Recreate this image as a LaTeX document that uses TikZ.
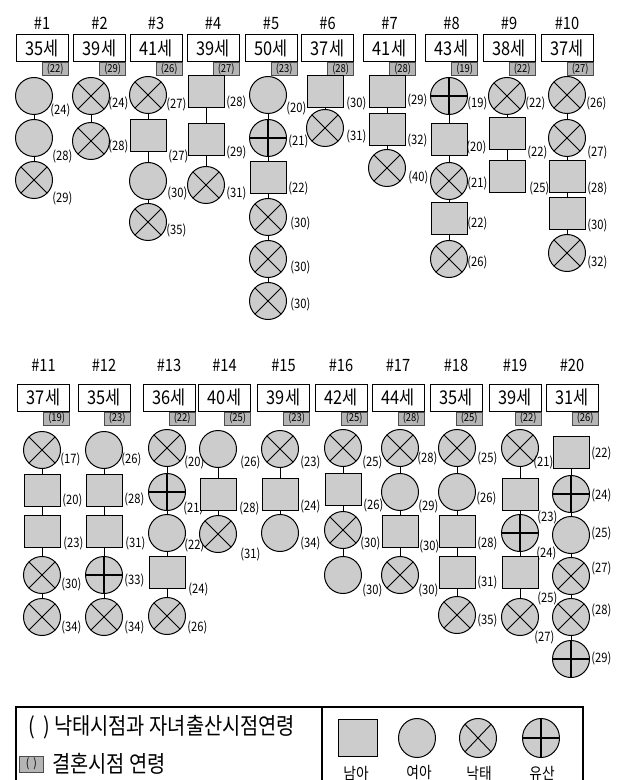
\documentclass[tikz,border=0pt]{standalone}
\usepackage{fontspec}
\setmainfont{Noto Sans CJK KR}[FakeStretch=0.86]
\usetikzlibrary{positioning,shapes.geometric}
\colorlet{kidgray}{gray!40}
\colorlet{weddark}{gray!58}

\tikzset{
  kid/.style={draw, fill=kidgray, line width=0.5pt, inner sep=0pt},
  xcross/.style={path picture={\draw[line width=0.45pt]
      (path picture bounding box.north west) -- (path picture bounding box.south east)
      (path picture bounding box.north east) -- (path picture bounding box.south west);}},
  pluscross/.style={path picture={\draw[line width=0.55pt]
      (path picture bounding box.north) -- (path picture bounding box.south)
      (path picture bounding box.west) -- (path picture bounding box.east);}},
  boy/.style={kid, rectangle, minimum width=18pt, minimum height=16pt},
  girl/.style={kid, circle, minimum size=18.5pt},
  abort/.style={girl, xcross},
  miscarry/.style={girl, pluscross},
  keyboy/.style={kid, rectangle, minimum width=19.5pt, minimum height=18.5pt},
  keygirl/.style={kid, ellipse, minimum width=18.5pt, minimum height=19.5pt},
  link/.style={line width=0.45pt},
  agelbl/.style={anchor=west, inner sep=0pt, font=\fontsize{6.5}{7}\selectfont},
  famno/.style={inner sep=0pt, font=\fontsize{8.5}{9}\selectfont},
  agebox/.style={draw, fill=white, line width=0.5pt, minimum width=26pt,
      minimum height=13.5pt, inner sep=0pt, font=\fontsize{9.5}{10}\selectfont},
  wedtag/.style={draw=black!70, fill=weddark, line width=0.3pt, minimum width=13pt,
      minimum height=6.5pt, inner sep=0pt, anchor=north east, font=\fontsize{5.5}{5.5}\selectfont},
  legtext/.style={inner sep=0pt, font=\fontsize{11.5}{12}\selectfont},
  keylbl/.style={inner sep=0pt, font=\fontsize{8}{9}\selectfont},
}

% one pregnancy: style, name, position, label position, age
\newcommand{\kid}[5]{%
  \node[#1] (#2) at (#3) {};
  \node[agelbl] (#2l) at (#4) {(#5)};}

\begin{document}
\begin{tikzpicture}[x=0.5pt, y=-0.5pt]
  \useasboundingbox (0,0) rectangle (621,780);

  % family headers, upper row
  \foreach \n/\x/\yrs/\w in {1/42/35/22, 2/99.5/39/29, 3/156/41/26, 4/213/39/27,
      5/271/50/23, 6/327.5/37/28, 7/389.5/41/28, 8/451.5/43/19, 9/509/38/22, 10/567/37/27} {
    \node[famno] (no\n) at (\x,23) {\#\n};
    \node[agebox] (age\n) at (\x,48.5) {\yrs{}세};
    \node[wedtag] (wed\n) at (age\n.south east) {(\w)};
  }
  % family headers, lower row
  \foreach \n/\x/\yrs/\w in {11/43.5/37/19, 12/104/35/23, 13/169/36/22, 14/224.5/40/25,
      15/283.5/39/23, 16/341/42/25, 17/398/44/28, 18/456/35/25, 19/515/39/22, 20/572/31/26} {
    \node[famno] (no\n) at (\x,365) {\#\n};
    \node[agebox] (age\n) at (\x,397.5) {\yrs{}세};
    \node[wedtag] (wed\n) at (age\n.south east) {(\w)};
  }

  % #1
  \kid{girl}{f1a}{34,96}{50,110}{24}
  \kid{girl}{f1b}{34,138}{52,156}{28}
  \kid{abort}{f1c}{34,180}{52,198}{29}
  \draw[link] (f1a) -- (f1b) -- (f1c);
  % #2
  \kid{abort}{f2a}{91,96}{108,103}{24}
  \kid{abort}{f2b}{91,141}{108,146}{28}
  \draw[link] (f2a) -- (f2b);
  % #3
  \kid{abort}{f3a}{148,95}{166,104}{27}
  \kid{boy}{f3b}{148,136}{168,156}{27}
  \kid{girl}{f3c}{148,181}{167,193}{30}
  \kid{abort}{f3d}{148,222}{166,230}{35}
  \draw[link] (f3a) -- (f3b) -- (f3c) -- (f3d);
  % #4
  \kid{boy}{f4a}{206,92}{226,102}{28}
  \kid{boy}{f4b}{206,140}{226,152}{29}
  \kid{abort}{f4c}{206,185}{226,193}{31}
  \draw[link] (f4a) -- (f4b) -- (f4c);
  % #5
  \kid{girl}{f5a}{268,95}{286,108}{20}
  \kid{miscarry}{f5b}{268,138}{288,141}{21}
  \kid{boy}{f5c}{268,178}{288,188}{22}
  \kid{abort}{f5d}{268,217}{290,223}{30}
  \kid{abort}{f5e}{268,259}{290,267}{30}
  \kid{abort}{f5f}{268,301}{290,304}{30}
  \draw[link] (f5a) -- (f5b) -- (f5c) -- (f5d) -- (f5e) -- (f5f);
  % #6
  \kid{boy}{f6a}{325,92}{346,103}{30}
  \kid{abort}{f6b}{325,128}{346,136}{31}
  \draw[link] (f6a) -- (f6b);
  % #7
  \kid{boy}{f7a}{387,92}{407,100}{29}
  \kid{boy}{f7b}{387,130}{407,140}{32}
  \kid{abort}{f7c}{387,168}{408,177}{40}
  \draw[link] (f7a) -- (f7b) -- (f7c);
  % #8
  \kid{miscarry}{f8a}{449,96}{467,103}{19}
  \kid{boy}{f8b}{449,140}{466,147}{20}
  \kid{abort}{f8c}{449,181}{467,183}{21}
  \kid{boy}{f8d}{449,219}{467,223}{22}
  \kid{abort}{f8e}{449,259}{467,262}{26}
  \draw[link] (f8a) -- (f8b) -- (f8c) -- (f8d) -- (f8e);
  % #9
  \kid{abort}{f9a}{507,96}{525,103}{22}
  \kid{boy}{f9b}{507,134}{527,152}{22}
  \kid{boy}{f9c}{507,177}{529,188}{25}
  \draw[link] (f9a) -- (f9b) -- (f9c);
  % #10
  \kid{abort}{f10a}{567,95}{586,103}{26}
  \kid{abort}{f10b}{567,138}{587,152}{27}
  \kid{boy}{f10c}{567,177}{587,188}{28}
  \kid{boy}{f10d}{567,214}{587,225}{30}
  \kid{abort}{f10e}{567,253}{587,262}{32}
  \draw[link] (f10a) -- (f10b) -- (f10c) -- (f10d) -- (f10e);

  % #11
  \kid{abort}{f11a}{42,450}{60,459}{17}
  \kid{boy}{f11b}{42,490}{62,500}{20}
  \kid{boy}{f11c}{42,531}{63,543}{23}
  \kid{abort}{f11d}{42,575}{61,584}{30}
  \kid{abort}{f11e}{42,617}{61,627}{34}
  \draw[link] (f11a) -- (f11b) -- (f11c) -- (f11d) -- (f11e);
  % #12
  \kid{girl}{f12a}{104,450}{121,459}{26}
  \kid{boy}{f12b}{104,490}{124,499}{28}
  \kid{boy}{f12c}{104,531}{125,543}{31}
  \kid{miscarry}{f12d}{104,575}{124,580}{33}
  \kid{abort}{f12e}{104,617}{124,627}{34}
  \draw[link] (f12a) -- (f12b) -- (f12c) -- (f12d) -- (f12e);
  % #13
  \kid{abort}{f13a}{167,448}{184,462}{20}
  \kid{miscarry}{f13b}{167,492}{183,508}{21}
  \kid{girl}{f13c}{167,533}{184,545}{22}
  \kid{boy}{f13d}{167,572}{188,589}{24}
  \kid{abort}{f13e}{167,616}{187,627}{26}
  \draw[link] (f13a) -- (f13b) -- (f13c) -- (f13d) -- (f13e);
  % #14
  \kid{girl}{f14a}{218,449}{240,462}{26}
  \kid{boy}{f14b}{218,494}{239,508}{28}
  \kid{abort}{f14c}{218,534}{240,554}{31}
  \draw[link] (f14a) -- (f14b) -- (f14c);
  % #15
  \kid{abort}{f15a}{280,449}{300,462}{23}
  \kid{boy}{f15b}{280,494}{300,506}{24}
  \kid{girl}{f15c}{280,533}{300,543}{34}
  \draw[link] (f15a) -- (f15b) -- (f15c);
  % #16
  \kid{abort}{f16a}{343,448}{362,462}{25}
  \kid{boy}{f16b}{343,489}{363,505}{26}
  \kid{abort}{f16c}{343,530}{360,543}{30}
  \kid{girl}{f16d}{343,575}{362,590}{30}
  \draw[link] (f16a) -- (f16b) -- (f16c) -- (f16d);
  % #17
  \kid{abort}{f17a}{400,448}{417,458}{28}
  \kid{girl}{f17b}{400,492}{418,506}{29}
  \kid{boy}{f17c}{400,531}{419,546}{30}
  \kid{abort}{f17d}{400,575}{418,590}{30}
  \draw[link] (f17a) -- (f17b) -- (f17c) -- (f17d);
  % #18
  \kid{abort}{f18a}{457,448}{477,458}{25}
  \kid{girl}{f18b}{457,492}{476,498}{26}
  \kid{boy}{f18c}{457,531}{477,543}{28}
  \kid{boy}{f18d}{457,572}{477,582}{31}
  \kid{abort}{f18e}{457,615}{477,620}{35}
  \draw[link] (f18a) -- (f18b) -- (f18c) -- (f18d) -- (f18e);
  % #19
  \kid{abort}{f19a}{520,448}{533,462}{21}
  \kid{boy}{f19b}{520,494}{537,517}{23}
  \kid{miscarry}{f19c}{520,533}{536,553}{24}
  \kid{boy}{f19d}{520,572}{537,598}{25}
  \kid{abort}{f19e}{520,617}{534,637}{27}
  \draw[link] (f19a) -- (f19b) -- (f19c) -- (f19d) -- (f19e);
  % #20
  \kid{boy}{f20a}{571,452}{591,453}{22}
  \kid{miscarry}{f20b}{571,494}{591,495}{24}
  \kid{girl}{f20c}{571,535}{591,533}{25}
  \kid{abort}{f20d}{571,576}{591,568}{27}
  \kid{abort}{f20e}{571,617}{591,610}{28}
  \kid{miscarry}{f20f}{571,659}{591,658}{29}
  \draw[link] (f20a) -- (f20b) -- (f20c) -- (f20d) -- (f20e) -- (f20f);

  % legend frame, open at the bottom edge
  \draw[line width=0.6pt] (16,781) -- (16,707) -- (583,707) -- (583,781);
  \draw[line width=0.6pt] (322,707) -- (322,781);
  \node[legtext, anchor=west] (key1) at (28,727) {(\hspace{4pt}) 낙태시점과 자녀출산시점연령};
  \node[wedtag, anchor=west, minimum width=12pt, minimum height=8pt,
        font=\fontsize{6}{6}\selectfont] (keytag) at (19,764) {(\hspace{2pt})};
  \node[legtext, right=4pt of keytag] (key2) {결혼시점 연령};
  \node[keyboy] (keyb) at (358,738) {};
  \node[keygirl] (keyg) at (417,738) {};
  \node[keygirl, xcross] (keya) at (478,738) {};
  \node[keygirl, pluscross] (keym) at (541,738) {};
  \node[keylbl] (keybl) at (356,773) {남아};
  \node[keylbl] (keygl) at (419,773) {여아};
  \node[keylbl] (keyal) at (479,773) {낙태};
  \node[keylbl] (keyml) at (542,773) {유산};
\end{tikzpicture}
\end{document}
